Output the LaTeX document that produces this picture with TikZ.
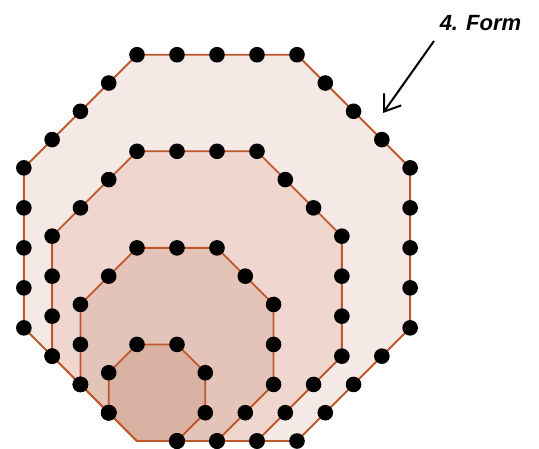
\documentclass[tikz,border=0pt]{standalone}
\usepackage{fontspec}
\setmainfont{Liberation Sans}
\usetikzlibrary{arrows.meta,calc}
\definecolor{edgecol}{HTML}{C0582B}
\definecolor{fillA}{HTML}{F5E9E6}
\definecolor{fillB}{HTML}{EFD7D0}
\definecolor{fillC}{HTML}{E4C3B8}
\definecolor{fillD}{HTML}{DAB2A4}
\tikzset{
  octa/.style={draw=edgecol, line width=1.8pt, line join=round},
  dotmark/.style={fill=black},
  pointer/.style={draw=black, line width=2pt, -{Straight Barb[length=15pt,width=21pt,line width=2pt]}},
  lbl/.style={font=\fontsize{22}{26}\selectfont\bfseries\itshape, inner sep=0pt}
}
\begin{document}
\begin{tikzpicture}[x=1pt,y=-1pt]
\useasboundingbox (0,0) rectangle (539,448);
\def\u{40}
\pgfmathsetmacro\d{40/sqrt(2)}
\foreach \n/\c in {4/fillA,3/fillB,2/fillC,1/fillD}{
  \pgfmathsetmacro\a{\n*\u}
  \pgfmathsetmacro\b{\n*\d}
  \draw[octa, fill=\c] (137,441) coordinate (o\n-0)
     -- ++(\a,0) coordinate (o\n-1)
     -- ++(\b,-\b) coordinate (o\n-2)
     -- ++(0,-\a) coordinate (o\n-3)
     -- ++(-\b,-\b) coordinate (o\n-4)
     -- ++(-\a,0) coordinate (o\n-5)
     -- ++(-\b,\b) coordinate (o\n-6)
     -- ++(0,\a) coordinate (o\n-7)
     -- cycle;
}
\foreach \n in {1,...,4}{
  \pgfmathtruncatemacro\m{\n-1}
  \foreach \i in {0,...,7}{
    \pgfmathtruncatemacro\j{mod(\i+1,8)}
    \foreach \k in {0,...,\m}{
      \pgfmathtruncatemacro\myskip{(\i==0)&&(\k==0)}
      \pgfmathsetmacro\f{\k/\n}
      \ifnum\myskip=0
        \fill[dotmark] ($(o\n-\i)!\f!(o\n-\j)$) circle[radius=7.8pt];
      \fi
    }
  }
}
\node[lbl, anchor=base] (label) at (480.5,30) {4. Form};
\coordinate (arrowstart) at (434,41);
\coordinate (arrowend) at (383,113);
\draw[pointer] (arrowstart) -- (arrowend);
\end{tikzpicture}
\end{document}
